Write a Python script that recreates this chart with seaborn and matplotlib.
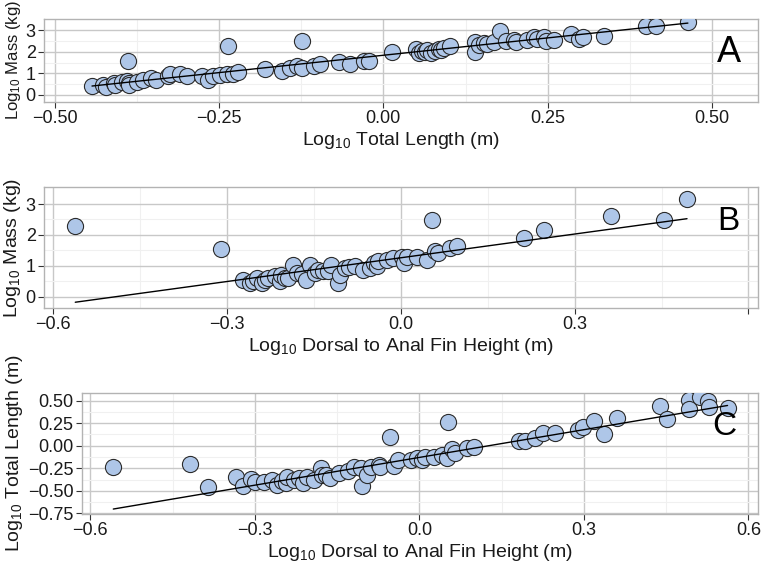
import numpy as np
import pandas as pd
import matplotlib
matplotlib.use("Agg")
import matplotlib.pyplot as plt
import seaborn as sns

# panel A: log10 total length (m) vs log10 mass (kg)
a_length = [-0.443, -0.426, -0.421, -0.409, -0.408, -0.398, -0.390, -0.386, -0.386, -0.375,
            -0.365, -0.353, -0.345, -0.327, -0.325, -0.309, -0.299, -0.276, -0.266, -0.259,
            -0.248, -0.238, -0.236, -0.228, -0.221, -0.180, -0.154, -0.142, -0.132, -0.124,
            -0.124, -0.106, -0.096, -0.068, -0.050, -0.030, -0.022, -0.388,
            0.013, 0.050, 0.054, 0.058, 0.064, 0.067, 0.072, 0.078, 0.084, 0.088, 0.092, 0.102,
            0.140, 0.140, 0.145, 0.153, 0.158, 0.168, 0.177, 0.186, 0.199, 0.201, 0.219, 0.229,
            0.234, 0.244, 0.247, 0.260, 0.285, 0.298, 0.303, 0.336, 0.399, 0.415, 0.463]
a_mass = [0.42, 0.47, 0.36, 0.55, 0.47, 0.58, 0.62, 0.55, 0.45, 0.59,
          0.70, 0.78, 0.67, 0.86, 0.98, 0.98, 0.86, 0.86, 0.70, 0.89,
          0.93, 0.97, 2.29, 0.98, 1.04, 1.20, 1.09, 1.25, 1.32, 1.25,
          2.49, 1.32, 1.45, 1.51, 1.45, 1.56, 1.59, 1.56,
          1.98, 2.13, 1.95, 2.05, 2.00, 2.07, 1.95, 2.05, 2.13, 2.10, 2.18, 2.29,
          2.44, 1.98, 2.30, 2.41, 2.35, 2.44, 2.96, 2.49, 2.57, 2.44, 2.54, 2.70,
          2.60, 2.70, 2.49, 2.54, 2.85, 2.60, 2.70, 2.76, 3.22, 3.19, 3.38]

# panel B: log10 dorsal to anal fin height (m) vs log10 mass (kg)
b_fin = [-0.562, -0.310, -0.272, -0.261, -0.255, -0.249, -0.240, -0.235, -0.229, -0.217,
         -0.209, -0.206, -0.200, -0.195, -0.186, -0.180, -0.170, -0.163, -0.157, -0.149,
         -0.143, -0.134, -0.125, -0.120, -0.108, -0.105, -0.096, -0.090, -0.079, -0.065,
         -0.053, -0.047, -0.042, -0.039, -0.024, -0.013, 0.002, 0.005, 0.010, 0.028,
         0.045, 0.054, 0.059, 0.065, 0.085, 0.097, 0.212, 0.247, 0.362, 0.454, 0.494]
b_mass = [2.30, 1.54, 0.55, 0.44, 0.50, 0.60, 0.44, 0.55, 0.60, 0.66,
          0.50, 0.71, 0.62, 0.60, 1.04, 0.77, 0.75, 0.55, 1.04, 0.77,
          0.87, 0.82, 0.82, 1.04, 0.44, 0.71, 0.93, 0.95, 0.98, 0.87,
          0.93, 1.09, 0.98, 1.14, 1.20, 1.25, 1.30, 1.09, 1.28, 1.30,
          1.20, 2.49, 1.47, 1.41, 1.58, 1.63, 1.90, 2.17, 2.62, 2.49, 3.16]

# panel C: log10 dorsal to anal fin height (m) vs log10 total length (m)
c_fin = [-0.558, -0.418, -0.385, -0.335, -0.321, -0.307, -0.300, -0.283, -0.268, -0.259,
         -0.250, -0.244, -0.241, -0.229, -0.220, -0.213, -0.204, -0.192, -0.180, -0.177,
         -0.170, -0.162, -0.147, -0.130, -0.119, -0.107, -0.104, -0.095, -0.089, -0.074,
         -0.071, -0.054, -0.047, -0.038, -0.016, -0.004, 0.005, 0.011, 0.026, 0.041,
         0.050, 0.053, 0.059, 0.065, 0.087, 0.099, 0.182, 0.193, 0.211, 0.225,
         0.247, 0.290, 0.298, 0.318, 0.336, 0.361, 0.438, 0.451, 0.491, 0.491,
         0.511, 0.526, 0.528, 0.562]
c_length = [-0.232, -0.205, -0.454, -0.350, -0.447, -0.372, -0.400, -0.399, -0.380, -0.436,
            -0.390, -0.417, -0.343, -0.380, -0.360, -0.417, -0.343, -0.380, -0.250, -0.324,
            -0.330, -0.361, -0.305, -0.280, -0.232, -0.250, -0.447, -0.324, -0.232, -0.213,
            -0.232, 0.096, -0.224, -0.157, -0.157, -0.139, -0.157, -0.127, -0.120, -0.101,
            -0.139, 0.259, -0.038, -0.083, -0.020, -0.016, 0.058, 0.058, 0.085, 0.147,
            0.147, 0.177, 0.203, 0.270, 0.133, 0.307, 0.444, 0.296, 0.503, 0.407,
            0.541, 0.492, 0.430, 0.419]

# fitted lines (intercept, slope) as drawn in the figure
fit_a = [1.84, 3.24]
fit_b = [1.26, 2.56]
fit_c = [-0.13, 1.027]

sns.set_style("whitegrid")
plt.rcParams['font.family'] = ['Liberation Sans', 'DejaVu Sans']
plt.rcParams['mathtext.default'] = 'regular'
plt.rcParams['axes.unicode_minus'] = True

POINT = '#aec6e8'
EDGE = '#2b2b2b'


def draw_panel(ax, x, y, fit, xlim, ylim, xticks, xlabels, yticks, ylabels,
               xlabel, ylabel, letter, letter_xy, letter_size, ylabel_size=14):
    df = pd.DataFrame({'x': x, 'y': y})
    xs = np.array([df['x'].min(), df['x'].max()])
    line = pd.DataFrame({'x': xs, 'y': fit[0] + fit[1] * xs})
    sns.scatterplot(data=df, x='x', y='y', ax=ax, s=135, color=POINT,
                    edgecolor=EDGE, linewidth=0.8, zorder=3)
    sns.lineplot(data=line, x='x', y='y', ax=ax, color='black', linewidth=1.0, zorder=4)
    ax.set_xlim(xlim)
    ax.set_ylim(ylim)
    ax.set_xticks(xticks)
    ax.set_xticklabels(xlabels)
    ax.set_yticks(yticks)
    ax.set_yticklabels(ylabels)
    xminor = [(xticks[i] + xticks[i + 1]) / 2 for i in range(len(xticks) - 1)]
    yminor = [(yticks[i] + yticks[i + 1]) / 2 for i in range(len(yticks) - 1)]
    ax.set_xticks(xminor, minor=True)
    ax.set_yticks(yminor, minor=True)
    ax.grid(which='major', color='#c8c8c8', linewidth=1.0)
    ax.grid(which='minor', color='#f0f0f0', linewidth=0.8)
    ax.tick_params(which='major', direction='out', length=4, width=0.8, color='#333333',
                   labelsize=13, labelcolor='#1a1a1a', pad=2, bottom=True, left=True)
    ax.tick_params(which='minor', length=0)
    for sp in ax.spines.values():
        sp.set_color('#b3b3b3')
        sp.set_linewidth(1.0)
    ax.set_axisbelow(True)
    ax.set_xlabel(xlabel, fontsize=14, color='#1a1a1a', labelpad=2)
    ax.set_ylabel(ylabel, fontsize=ylabel_size, color='#1a1a1a', labelpad=2)
    ax.text(letter_xy[0], letter_xy[1], letter, fontsize=letter_size,
            ha='center', va='center', color='black')


fig = plt.figure(figsize=(7.61, 5.66), dpi=100)
ax_a = fig.add_axes([0.0578, 0.8198, 0.9386, 0.1466])
ax_b = fig.add_axes([0.0578, 0.4558, 0.9386, 0.2138])
ax_c = fig.add_axes([0.1078, 0.0919, 0.8886, 0.2138])

draw_panel(ax_a, a_length, a_mass, fit_a, (-0.516, 0.570), (-0.34, 3.53),
           [-0.5, -0.25, 0.0, 0.25, 0.5], ['−0.50', '−0.25', '0.00', '0.25', '0.50'],
           [0, 1, 2, 3], ['0', '1', '2', '3'],
           r'Log$_{10}$ Total Length (m)', r'Log$_{10}$ Mass (kg)', 'A', (0.526, 1.96), 26,
           ylabel_size=12)
draw_panel(ax_b, b_fin, b_mass, fit_b, (-0.616, 0.617), (-0.366, 3.55),
           [-0.6, -0.3, 0.0, 0.3, 0.6], ['−0.6', '−0.3', '0.0', '0.3', ''],
           [0, 1, 2, 3], ['0', '1', '2', '3'],
           r'Log$_{10}$ Dorsal to Anal Fin Height (m)', r'Log$_{10}$ Mass (kg)', 'B', (0.566, 2.43), 24)
draw_panel(ax_c, c_fin, c_length, fit_c, (-0.615, 0.618), (-0.758, 0.586),
           [-0.6, -0.3, 0.0, 0.3, 0.6], ['−0.6', '−0.3', '0.0', '0.3', '0.6'],
           [-0.75, -0.5, -0.25, 0.0, 0.25, 0.5], ['−0.75', '−0.50', '−0.25', '0.00', '0.25', '0.50'],
           r'Log$_{10}$ Dorsal to Anal Fin Height (m)', r'Log$_{10}$ Total Length (m)', 'C', (0.556, 0.21), 24)

fig.savefig('out.png', dpi=100)
